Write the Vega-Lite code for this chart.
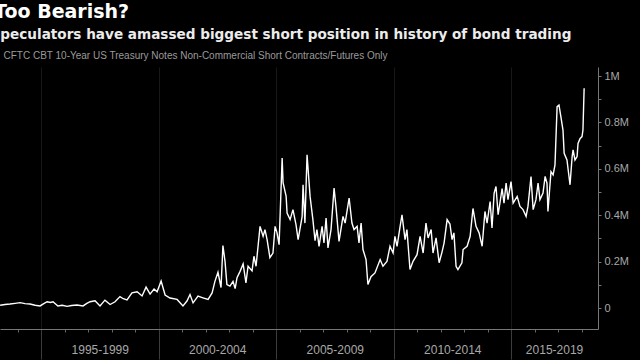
{
  "$schema": "https://vega.github.io/schema/vega-lite/v6.json",
  "autosize": {"type": "none"},
  "width": 598,
  "height": 262,
  "padding": {"left": 0, "top": 67, "right": 42, "bottom": 31},
  "background": "#000000",
  "config": {"view": {"stroke": null}},
  "title": {
    "text": "Too Bearish?",
    "anchor": "start",
    "frame": "group",
    "dx": -6,
    "font": "DejaVu Sans",
    "fontSize": 19,
    "fontWeight": "bold",
    "color": "#ffffff",
    "offset": 6
  },
  "data": {
    "values": [
      {"year": 1993.26, "v": 12000}, {"year": 1993.47, "v": 15000}, {"year": 1993.68, "v": 17000}, {"year": 1993.9, "v": 20000},
      {"year": 1994.11, "v": 23000}, {"year": 1994.32, "v": 19000}, {"year": 1994.53, "v": 17000}, {"year": 1994.75, "v": 12000},
      {"year": 1994.96, "v": 9000}, {"year": 1995.1, "v": 18000}, {"year": 1995.26, "v": 27000}, {"year": 1995.4, "v": 24000},
      {"year": 1995.51, "v": 27000}, {"year": 1995.72, "v": 9000}, {"year": 1995.9, "v": 12000}, {"year": 1996.11, "v": 7000},
      {"year": 1996.3, "v": 11000}, {"year": 1996.53, "v": 13000}, {"year": 1996.79, "v": 9000}, {"year": 1996.95, "v": 20000},
      {"year": 1997.09, "v": 27000}, {"year": 1997.3, "v": 31000}, {"year": 1997.51, "v": 9000}, {"year": 1997.72, "v": 34000},
      {"year": 1997.94, "v": 15000}, {"year": 1998.15, "v": 27000}, {"year": 1998.36, "v": 49000}, {"year": 1998.5, "v": 40000},
      {"year": 1998.66, "v": 35000}, {"year": 1998.87, "v": 65000}, {"year": 1999.09, "v": 70000}, {"year": 1999.3, "v": 52000},
      {"year": 1999.47, "v": 90000}, {"year": 1999.64, "v": 60000}, {"year": 1999.81, "v": 82000}, {"year": 1999.94, "v": 70000},
      {"year": 2000.11, "v": 116000}, {"year": 2000.28, "v": 56000}, {"year": 2000.49, "v": 43000}, {"year": 2000.79, "v": 37000},
      {"year": 2001.04, "v": 9000}, {"year": 2001.21, "v": 30000}, {"year": 2001.34, "v": 58000}, {"year": 2001.47, "v": 22000},
      {"year": 2001.68, "v": 51000}, {"year": 2001.89, "v": 44000}, {"year": 2002.11, "v": 37000}, {"year": 2002.28, "v": 65000},
      {"year": 2002.4, "v": 115000}, {"year": 2002.53, "v": 154000}, {"year": 2002.66, "v": 88000}, {"year": 2002.74, "v": 269000},
      {"year": 2002.83, "v": 201000}, {"year": 2002.91, "v": 101000}, {"year": 2003.04, "v": 94000}, {"year": 2003.17, "v": 115000},
      {"year": 2003.26, "v": 84000}, {"year": 2003.34, "v": 131000}, {"year": 2003.47, "v": 158000}, {"year": 2003.6, "v": 190000},
      {"year": 2003.72, "v": 108000}, {"year": 2003.81, "v": 180000}, {"year": 2003.98, "v": 160000}, {"year": 2004.06, "v": 223000},
      {"year": 2004.15, "v": 180000}, {"year": 2004.32, "v": 352000}, {"year": 2004.45, "v": 309000}, {"year": 2004.53, "v": 338000},
      {"year": 2004.62, "v": 295000}, {"year": 2004.74, "v": 217000}, {"year": 2004.87, "v": 237000}, {"year": 2004.96, "v": 352000},
      {"year": 2005.04, "v": 325000}, {"year": 2005.13, "v": 273000}, {"year": 2005.26, "v": 646000}, {"year": 2005.3, "v": 540000},
      {"year": 2005.43, "v": 481000}, {"year": 2005.47, "v": 409000}, {"year": 2005.6, "v": 381000}, {"year": 2005.72, "v": 424000},
      {"year": 2005.85, "v": 359000}, {"year": 2005.94, "v": 295000}, {"year": 2006.11, "v": 394000}, {"year": 2006.15, "v": 531000},
      {"year": 2006.23, "v": 366000}, {"year": 2006.32, "v": 660000}, {"year": 2006.45, "v": 480000}, {"year": 2006.57, "v": 380000},
      {"year": 2006.66, "v": 290000}, {"year": 2006.74, "v": 338000}, {"year": 2006.83, "v": 266000}, {"year": 2006.96, "v": 352000},
      {"year": 2007.04, "v": 280000}, {"year": 2007.13, "v": 388000}, {"year": 2007.21, "v": 259000}, {"year": 2007.34, "v": 338000},
      {"year": 2007.47, "v": 517000}, {"year": 2007.55, "v": 438000}, {"year": 2007.68, "v": 287000}, {"year": 2007.85, "v": 395000},
      {"year": 2007.94, "v": 366000}, {"year": 2008.11, "v": 474000}, {"year": 2008.23, "v": 366000}, {"year": 2008.32, "v": 338000},
      {"year": 2008.45, "v": 352000}, {"year": 2008.53, "v": 280000}, {"year": 2008.62, "v": 366000}, {"year": 2008.7, "v": 252000},
      {"year": 2008.83, "v": 209000}, {"year": 2008.91, "v": 101000}, {"year": 2009.04, "v": 135000}, {"year": 2009.21, "v": 151000},
      {"year": 2009.43, "v": 209000}, {"year": 2009.55, "v": 180000}, {"year": 2009.72, "v": 201000}, {"year": 2009.85, "v": 266000},
      {"year": 2009.98, "v": 237000}, {"year": 2010.06, "v": 309000}, {"year": 2010.15, "v": 266000}, {"year": 2010.28, "v": 352000},
      {"year": 2010.36, "v": 402000}, {"year": 2010.49, "v": 295000}, {"year": 2010.57, "v": 338000}, {"year": 2010.7, "v": 166000},
      {"year": 2010.83, "v": 201000}, {"year": 2011.0, "v": 230000}, {"year": 2011.13, "v": 309000}, {"year": 2011.26, "v": 237000},
      {"year": 2011.38, "v": 366000}, {"year": 2011.47, "v": 302000}, {"year": 2011.6, "v": 338000}, {"year": 2011.68, "v": 237000},
      {"year": 2011.81, "v": 302000}, {"year": 2011.94, "v": 195000}, {"year": 2012.06, "v": 240000}, {"year": 2012.15, "v": 280000},
      {"year": 2012.28, "v": 381000}, {"year": 2012.4, "v": 362000}, {"year": 2012.49, "v": 295000}, {"year": 2012.57, "v": 324000},
      {"year": 2012.66, "v": 180000}, {"year": 2012.74, "v": 166000}, {"year": 2012.91, "v": 195000}, {"year": 2012.96, "v": 252000},
      {"year": 2013.13, "v": 266000}, {"year": 2013.26, "v": 309000}, {"year": 2013.38, "v": 429000}, {"year": 2013.51, "v": 352000},
      {"year": 2013.64, "v": 324000}, {"year": 2013.77, "v": 266000}, {"year": 2013.89, "v": 416000}, {"year": 2013.98, "v": 366000},
      {"year": 2014.11, "v": 459000}, {"year": 2014.19, "v": 345000}, {"year": 2014.28, "v": 495000}, {"year": 2014.36, "v": 524000},
      {"year": 2014.45, "v": 402000}, {"year": 2014.62, "v": 515000}, {"year": 2014.7, "v": 452000}, {"year": 2014.79, "v": 538000},
      {"year": 2014.87, "v": 467000}, {"year": 2015.0, "v": 545000}, {"year": 2015.09, "v": 452000}, {"year": 2015.26, "v": 481000},
      {"year": 2015.38, "v": 438000}, {"year": 2015.51, "v": 424000}, {"year": 2015.64, "v": 395000}, {"year": 2015.72, "v": 438000},
      {"year": 2015.85, "v": 567000}, {"year": 2015.94, "v": 424000}, {"year": 2016.06, "v": 467000}, {"year": 2016.15, "v": 538000},
      {"year": 2016.23, "v": 467000}, {"year": 2016.36, "v": 495000}, {"year": 2016.45, "v": 567000}, {"year": 2016.53, "v": 538000},
      {"year": 2016.57, "v": 416000}, {"year": 2016.7, "v": 588000}, {"year": 2016.79, "v": 574000}, {"year": 2016.87, "v": 617000},
      {"year": 2016.96, "v": 868000}, {"year": 2017.04, "v": 875000}, {"year": 2017.13, "v": 818000}, {"year": 2017.21, "v": 767000},
      {"year": 2017.26, "v": 667000}, {"year": 2017.38, "v": 638000}, {"year": 2017.43, "v": 596000}, {"year": 2017.51, "v": 531000},
      {"year": 2017.6, "v": 653000}, {"year": 2017.64, "v": 682000}, {"year": 2017.72, "v": 638000}, {"year": 2017.81, "v": 653000},
      {"year": 2017.85, "v": 709000}, {"year": 2017.94, "v": 731000}, {"year": 2018.02, "v": 739000}, {"year": 2018.06, "v": 767000},
      {"year": 2018.11, "v": 947000}
    ]
  },
  "mark": {"type": "line", "color": "#ffffff", "strokeWidth": 1.4, "clip": true},
  "encoding": {
    "x": {
      "field": "year",
      "type": "quantitative",
      "scale": {"domain": [1993.255, 2018.7], "nice": false, "zero": false},
      "axis": {
        "orient": "bottom",
        "title": "Speculators have amassed biggest short position in history of bond trading",
        "titleX": -10,
        "titleY": -290.5,
        "titleAlign": "left",
        "titleBaseline": "alphabetic",
        "titleFont": "DejaVu Sans",
        "titleFontSize": 13.6,
        "titleFontWeight": "bold",
        "titleColor": "#ececec",
        "values": [1994, 1995, 1996, 1997, 1998, 1999, 2000, 2001, 2002, 2003, 2004, 2005, 2006, 2007, 2008, 2009, 2010, 2011, 2012, 2013, 2014, 2015, 2016, 2017, 2018],
        "labelExpr": "datum.value % 5 == 2 ? (datum.value - 2) + '-' + (datum.value + 2) : ''",
        "labelOffset": {"condition": {"test": "datum.value == 2017", "value": -4}, "value": 11.75},
        "labelPadding": 12,
        "labelFlush": false,
        "labelOverlap": false,
        "labelBound": false,
        "labelFont": "Liberation Sans",
        "labelFontSize": 12,
        "labelColor": "#a8a8a8",
        "tickSize": {"condition": {"test": "datum.value % 5 == 0", "value": 30}, "value": 3},
        "tickColor": {"condition": {"test": "datum.value % 5 == 0", "value": "#3c3c3c"}, "value": "#666666"},
        "domainColor": "#777777",
        "grid": true,
        "gridColor": "#181818",
        "gridOpacity": {"condition": {"test": "datum.value % 5 == 0", "value": 1}, "value": 0}
      }
    },
    "y": {
      "field": "v",
      "type": "quantitative",
      "scale": {"domain": [-90500, 1038800], "nice": false, "zero": false},
      "axis": {
        "orient": "right",
        "values": [0, 100000, 200000, 300000, 400000, 500000, 600000, 700000, 800000, 900000, 1000000],
        "labelExpr": "datum.value % 200000 == 0 ? (datum.value == 0 ? '0' : datum.value / 1000000 + 'M') : ''",
        "tickSize": 3,
        "tickColor": "#777777",
        "domainColor": "#777777",
        "labelColor": "#a8a8a8",
        "labelFont": "Liberation Sans",
        "labelFontSize": 11,
        "labelPadding": 3,
        "labelFlush": false,
        "labelOverlap": false,
        "grid": false,
        "title": "CFTC CBT 10-Year US Treasury Notes Non-Commercial Short Contracts/Futures Only",
        "titleAngle": 0,
        "titleX": -595,
        "titleY": -9,
        "titleAlign": "left",
        "titleBaseline": "alphabetic",
        "titleFont": "Liberation Sans",
        "titleFontSize": 10,
        "titleFontWeight": "normal",
        "titleColor": "#9a9a9a"
      }
    }
  }
}
